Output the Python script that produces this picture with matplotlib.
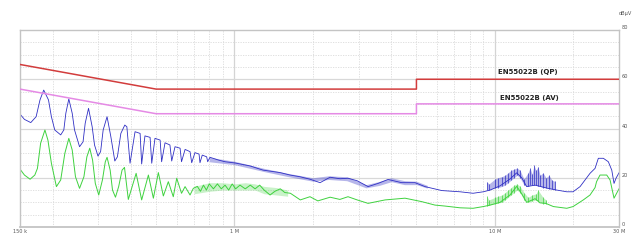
import matplotlib
matplotlib.use("Agg")
import matplotlib.pyplot as plt

# limit lines (MHz, dBuV)
lim_f = [0.15, 0.5, 5.0, 5.0, 30.0]
qp_lim = [66, 56, 56, 60, 60]
av_lim = [56, 46, 46, 50, 50]

# QP trace (blue)
qp_f = [0.151, 0.156, 0.165, 0.173, 0.179, 0.185, 0.193, 0.198, 0.204, 0.215,
        0.221, 0.225, 0.231, 0.238, 0.243, 0.254, 0.262, 0.267, 0.275, 0.284,
        0.290, 0.299, 0.306, 0.313, 0.324, 0.335, 0.347, 0.355, 0.366, 0.379,
        0.386, 0.397, 0.415, 0.434, 0.440, 0.453, 0.474, 0.481, 0.495, 0.518,
        0.525, 0.541, 0.565, 0.574, 0.591, 0.618, 0.626, 0.646, 0.675, 0.685,
        0.705, 0.731, 0.737, 0.752, 0.782, 0.789, 0.805, 0.867, 0.920, 1.005,
        1.147, 1.287, 1.496, 1.635, 1.786, 1.951, 2.132, 2.328, 2.544, 2.730,
        2.957, 3.260, 3.560, 3.890, 4.389, 4.938, 5.396, 6.255, 7.353, 8.250,
        9.035, 9.59, 10.47, 11.44, 12.14, 12.69, 13.26, 14.28, 14.92, 16.0,
        17.30, 18.90, 19.98, 21.26, 23.22, 24.27, 24.99, 26.12, 27.30, 28.14,
        28.71, 29.22, 30.0]
qp_val = [45.5, 43.7, 42.4, 44.8, 51.6, 55.6, 51.6, 44.8, 39.4, 37.4,
          39.4, 46.2, 52.0, 46.2, 39.4, 32.6, 34.6, 42.1, 48.2, 40.7,
          33.3, 28.8, 30.6, 39.4, 44.8, 36.7, 26.8, 28.5, 38.0, 41.4,
          40.7, 25.9, 38.7, 38.0, 25.6, 37.0, 36.4, 25.9, 36.0, 35.3,
          26.5, 34.2, 33.3, 26.8, 32.6, 32.0, 26.5, 31.5, 30.6, 26.1,
          30.2, 29.6, 26.1, 29.2, 28.5, 26.5, 28.3, 27.2, 26.5, 26.0,
          24.8, 23.1, 22.1, 21.1, 20.4, 19.4, 18.0, 20.2, 19.6, 19.8,
          18.8, 16.4, 17.7, 19.3, 18.0, 18.0, 16.4, 14.8, 14.3, 13.7,
          14.3, 15.0, 16.7, 19.5, 22.0, 20.0, 16.4, 17.0, 16.5, 15.7,
          15.0, 14.3, 14.3, 16.4, 21.8, 23.8, 27.9, 27.9, 26.5, 23.1,
          17.7, 19.8, 22.0]

# QP spikes between 9 and 17 MHz (MHz, base, top)
qp_spk_f = [9.31, 9.5, 10.02, 10.3, 10.66, 10.95, 11.25, 11.55, 11.86, 12.17,
            12.50, 12.95, 13.42, 13.66, 13.90, 14.15, 14.40, 14.66, 14.92, 15.32,
            15.73, 16.16, 16.59, 17.04]
qp_spk_lo = [15, 15, 16, 16, 16.5, 17, 18, 19, 20, 21,
             20, 17, 16.5, 17, 17, 17, 17, 16.5, 16.5, 16,
             16, 15.5, 15.5, 15]
qp_spk_hi = [18.4, 17.5, 19.5, 20, 20.5, 21, 22, 23, 23.5, 24,
             23, 19.5, 22, 24, 21.5, 25, 23, 24.5, 21, 22,
             20, 21, 19, 18.5]

# QP ripple band 0.8 - 5 MHz (low / high)
qp_band_f = [0.80, 1.0, 1.3, 1.6, 2.0, 2.3, 2.7, 3.2, 3.6, 4.0, 4.5, 5.0, 5.5]
qp_band_lo = [26.5, 25.3, 22.5, 20.5, 18.6, 19.3, 18.8, 15.9, 16.9, 18.4, 17.2, 17.2, 15.8]
qp_band_hi = [28.3, 26.7, 23.8, 21.8, 20.0, 20.8, 20.4, 17.2, 18.5, 20.0, 18.8, 18.6, 16.9]

# AV trace (green)
av_f = [0.151, 0.156, 0.164, 0.171, 0.175, 0.180, 0.187, 0.192, 0.198, 0.207,
        0.215, 0.223, 0.231, 0.238, 0.245, 0.254, 0.264, 0.271, 0.278, 0.285,
        0.292, 0.301, 0.311, 0.319, 0.324, 0.333, 0.340, 0.349, 0.359, 0.370,
        0.378, 0.391, 0.419, 0.440, 0.467, 0.488, 0.510, 0.533, 0.557, 0.582,
        0.600, 0.626, 0.646, 0.675, 0.695, 0.72, 0.74, 0.76, 0.78, 0.80,
        0.83, 0.86, 0.89, 0.92, 0.95, 0.98, 1.01, 1.05, 1.10, 1.15,
        1.20, 1.25, 1.30, 1.37, 1.43, 1.50, 1.56, 1.64, 1.79, 1.95,
        2.09, 2.33, 2.54, 2.73, 2.96, 3.26, 3.79, 4.52, 5.24, 5.89,
        6.44, 7.35, 8.25, 9.035, 9.59, 10.47, 11.44, 12.14, 12.69, 13.26,
        14.28, 14.92, 15.7, 16.79, 18.90, 19.98, 21.88, 23.22, 24.27, 24.6,
        25.36, 26.91, 27.72, 28.71, 29.82, 30.0]
av_val = [23.1, 21.1, 19.4, 21.1, 23.8, 34.0, 39.4, 35.3, 25.9, 16.4,
          19.1, 29.9, 36.0, 31.3, 20.4, 15.7, 20.4, 28.5, 32.0, 27.2,
          17.7, 13.0, 19.1, 26.5, 28.3, 23.1, 15.0, 12.1, 16.4, 23.1,
          24.2, 11.2, 21.8, 11.0, 21.1, 11.7, 22.1, 12.6, 18.4, 12.3,
          19.8, 13.7, 16.4, 13.0, 15.7, 16.5, 14.5, 17.0, 15.0, 17.5,
          15.5, 17.5, 15.5, 17.0, 15.0, 17.5, 15.5, 17.0, 15.5, 17.0,
          15.5, 17.0, 15.0, 13.0, 14.5, 15.5, 14.0, 13.7, 11.0, 12.3,
          10.6, 12.1, 11.2, 12.3, 11.0, 9.6, 11.0, 11.7, 10.3, 8.9,
          8.5, 7.8, 7.6, 8.3, 8.9, 10.0, 13.0, 16.5, 13.5, 10.0,
          11.5, 9.8, 9.6, 8.3, 7.6, 8.3, 11.0, 13.0, 16.0, 18.4,
          21.1, 21.1, 19.1, 11.7, 15.0, 15.5]

av_spk_f = [9.31, 9.5, 10.02, 10.3, 10.66, 10.95, 11.25, 11.55, 11.86, 12.17,
            12.50, 12.95, 13.42, 13.90, 14.40, 14.66, 15.32, 15.73]
av_spk_lo = [8.5, 8.8, 9.5, 9.8, 10, 11, 12, 13, 14, 15,
             14, 11, 10, 10.5, 11, 10.5, 9.5, 9.5]
av_spk_hi = [12.5, 11, 12, 12.5, 13, 14, 15, 16, 17, 17.5,
             16.5, 14, 12, 13, 13.5, 15, 12, 11]

# AV noise band 0.7 - 1.6 MHz
av_band_f = [0.70, 0.80, 0.90, 1.0, 1.1, 1.2, 1.3, 1.45, 1.6]
av_band_lo = [13.5, 14.5, 15.0, 15.0, 15.0, 15.0, 13.5, 13.0, 12.5]
av_band_hi = [16.5, 18.0, 18.0, 17.5, 18.0, 17.5, 16.5, 16.0, 15.0]

BLUE = "#2f2fc4"
GREEN = "#3fd23f"

fig = plt.figure(figsize=(6.39, 2.43), dpi=100)
ax = fig.add_axes([20 / 639, 1 - 227 / 243, 599 / 639, 197 / 243])
ax.set_xscale("log")
ax.set_xlim(0.15, 30)
ax.set_ylim(0, 80)

# grid
for d in [0.1, 1, 10]:
    for m in range(2, 10):
        v = d * m
        if 0.15 < v < 30:
            ax.axvline(v, color="#dadada", lw=0.6, ls=(0, (1.5, 1.5)), zorder=0)
for v in [1, 10]:
    ax.axvline(v, color="#d4d4d4", lw=0.9, zorder=0)
for h in range(5, 80, 5):
    if h % 20 == 0:
        ax.axhline(h, color="#d8d8d8", lw=0.9, zorder=0)
    else:
        ax.axhline(h, color="#dadada", lw=0.6, ls=(0, (1.5, 1.5)), zorder=0)

ax.plot(lim_f, qp_lim, color="#d23c3c", lw=1.1, zorder=3)
ax.plot(lim_f, av_lim, color="#e58ae5", lw=1.1, zorder=3)

ax.fill_between(av_band_f, av_band_lo, av_band_hi, color=GREEN, alpha=0.28, lw=0, zorder=2)
ax.fill_between(av_spk_f, av_spk_lo, av_spk_hi, color=GREEN, alpha=0.35, lw=0, zorder=2)
ax.plot(av_f, av_val, color=GREEN, lw=0.7, zorder=2)
ax.vlines(av_spk_f, av_spk_lo, av_spk_hi, color=GREEN, lw=0.5, zorder=2)

ax.fill_between(qp_band_f, qp_band_lo, qp_band_hi, color=BLUE, alpha=0.35, lw=0, zorder=2)
ax.fill_between(qp_spk_f, qp_spk_lo, qp_spk_hi, color=BLUE, alpha=0.35, lw=0, zorder=2)
ax.plot(qp_f, qp_val, color=BLUE, lw=0.6, zorder=2)
ax.vlines(qp_spk_f, qp_spk_lo, qp_spk_hi, color=BLUE, lw=0.5, zorder=2)

ax.text(10.3, 62.9, "EN55022B (QP)", fontsize=5, fontweight="bold",
        color="#222222", va="center", ha="left", zorder=4)
ax.text(10.5, 52.4, "EN55022B (AV)", fontsize=5, fontweight="bold",
        color="#222222", va="center", ha="left", zorder=4)

for s in ax.spines.values():
    s.set_color("#c4c4c4")
    s.set_linewidth(1.0)
ax.spines["bottom"].set_linewidth(1.3)

ax.set_xticks([0.15, 1, 10, 30])
ax.set_xticklabels(["150 k", "1 M", "10 M", "30 M"])
ax.set_xticks([], minor=True)
ax.set_yticks([0, 20, 40, 60, 80])
ax.yaxis.tick_right()
ax.tick_params(length=0, labelsize=3.6, colors="#555555", pad=2)
ax.tick_params(axis="x", pad=1.5)
for lab in ax.get_yticklabels():
    lab.set_va("bottom")

fig.text(625 / 639, 1 - 14 / 243, "dBµV", fontsize=3.6, color="#555555",
         ha="center", va="center")

fig.savefig("out.png", dpi=100)
